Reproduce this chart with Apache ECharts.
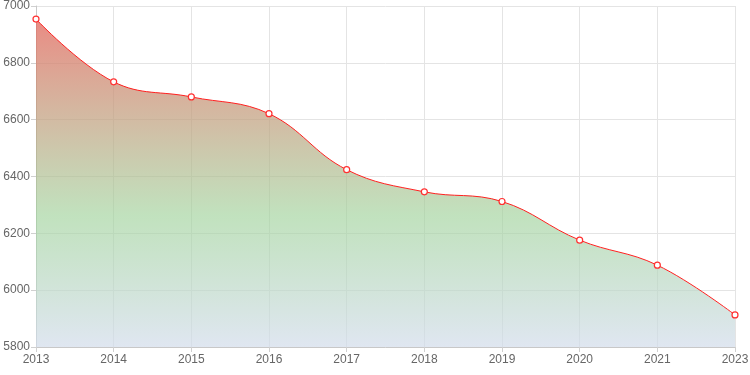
<!DOCTYPE html>
<html><head><meta charset="utf-8">
<script src="https://cdn.jsdelivr.net/npm/echarts@6/dist/echarts.min.js"></script>
<style>html,body{margin:0;padding:0;background:#fff}#c{width:750px;height:375px}</style>
</head><body><div id="c"></div>
<script>
const years = ['2013','2014','2015','2016','2017','2018','2019','2020','2021','2023'];
const values = [6954, 6733, 6680, 6621, 6424, 6346, 6312, 6176, 6088, 5913];
const yMin = 5800, yMax = 7000, yStep = 200;

const chart = echarts.init(document.getElementById('c'), null, {renderer: 'canvas'});
chart.setOption({
  animation: false,
  backgroundColor: '#fff',
  grid: {left: 36, right: 15, top: 6, bottom: 28, containLabel: false, outerBoundsMode: 'none'},
  xAxis: {
    type: 'category', data: years, boundaryGap: false,
    axisLine: {lineStyle: {color: '#c8c8c8'}},
    axisTick: {show: true, length: 5, lineStyle: {color: '#d0d0d0'}},
    axisLabel: {color: '#666', fontSize: 12, fontFamily: 'Liberation Sans, Arial', margin: 7},
    splitLine: {show: true, lineStyle: {color: '#e4e4e4'}}
  },
  yAxis: {
    type: 'value', min: yMin, max: yMax, interval: yStep,
    axisLine: {show: true, lineStyle: {color: '#c8c8c8'}},
    axisTick: {show: true, length: 5, lineStyle: {color: '#d0d0d0'}},
    axisLabel: {color: '#666', fontSize: 12, fontFamily: 'Liberation Sans, Arial', margin: 6,
      formatter: v => String(v)},
    splitLine: {show: true, lineStyle: {color: '#e4e4e4'}}
  },
  series: [{
    type: 'line', data: values, smooth: 0.4,
    symbol: 'circle', symbolSize: 6,
    itemStyle: {color: '#fff', borderColor: '#ff3030', borderWidth: 1.2},
    lineStyle: {color: '#ff2020', width: 1},
    areaStyle: {
      opacity: 1,
      color: new echarts.graphic.LinearGradient(0, 0, 0, 1, [
        {offset: 0, color: 'rgba(228,110,100,0.8)'},
        {offset: 0.6, color: 'rgba(160,210,155,0.65)'},
        {offset: 1, color: 'rgba(210,220,235,0.7)'}
      ]),
      origin: 'start'
    }
  }]
});
</script></body></html>
